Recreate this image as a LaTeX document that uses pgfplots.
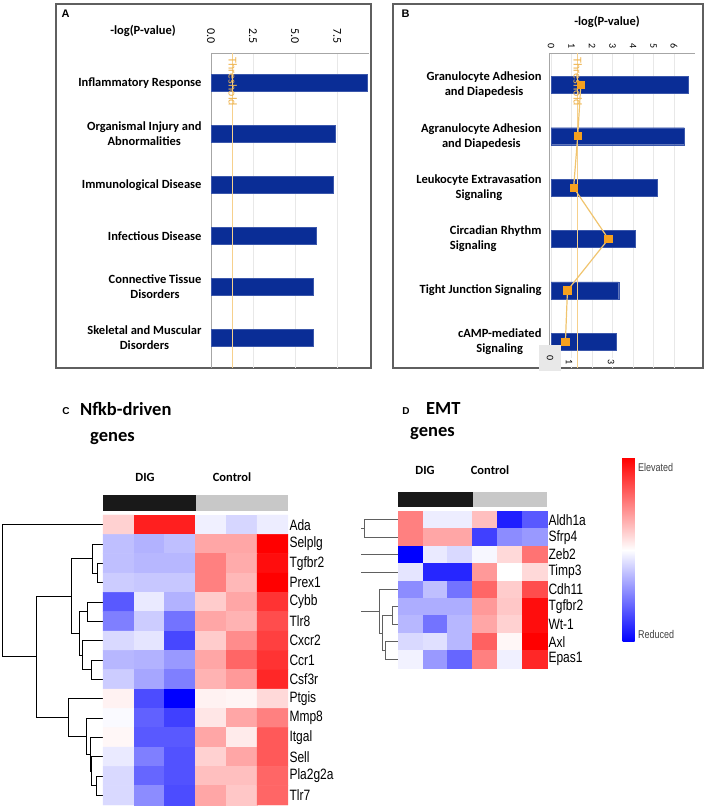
\documentclass[border=0pt]{standalone}
\usepackage{fontspec}
\setmainfont{Carlito}
\newfontfamily\arial{Liberation Sans}
\usepackage{pgfplots}
\pgfplotsset{compat=1.18}
\usepackage{pgfplotstable}

\definecolor{barblue}{RGB}{10,45,150}
\definecolor{thr}{RGB}{246,208,140}
\definecolor{thrtext}{RGB}{238,180,80}
\definecolor{orline}{RGB}{240,196,110}
\definecolor{ormark}{RGB}{245,160,30}
\definecolor{framec}{RGB}{95,95,95}
\definecolor{grp}{RGB}{200,200,200}
\definecolor{grpk}{RGB}{25,25,25}

\newcommand{\vs}[1]{\scalebox{1}[1.25]{#1}}

\pgfplotsset{colormap={bwr}{rgb255=(0,0,255) rgb255=(255,255,255) rgb255=(255,0,0)}}

\pgfplotstableread{
x y c
0 0 0.18
1 0 0.88
2 0 0.88
3 0 -0.06
4 0 -0.16
5 0 -0.07
0 1 -0.25
1 1 -0.30
2 1 -0.25
3 1 0.35
4 1 0.35
5 1 1.00
0 2 -0.25
1 2 -0.28
2 2 -0.28
3 2 0.50
4 2 0.33
5 2 0.95
0 3 -0.20
1 3 -0.22
2 3 -0.22
3 3 0.50
4 3 0.28
5 3 1.00
0 4 -0.65
1 4 -0.08
2 4 -0.30
3 4 0.20
4 4 0.35
5 4 0.80
0 5 -0.50
1 5 -0.20
2 5 -0.55
3 5 0.35
4 5 0.30
5 5 0.70
0 6 -0.15
1 6 -0.10
2 6 -0.72
3 6 0.20
4 6 0.45
5 6 0.75
0 7 -0.28
1 7 -0.30
2 7 -0.40
3 7 0.35
4 7 0.60
5 7 0.80
0 8 -0.20
1 8 -0.35
2 8 -0.50
3 8 0.30
4 8 0.40
5 8 0.85
0 9 0.05
1 9 -0.70
2 9 -1.00
3 9 0.05
4 9 0.04
5 9 0.15
0 10 -0.02
1 10 -0.62
2 10 -0.75
3 10 0.10
4 10 0.35
5 10 0.50
0 11 0.03
1 11 -0.65
2 11 -0.65
3 11 0.35
4 11 0.08
5 11 0.65
0 12 -0.08
1 12 -0.50
2 12 -0.68
3 12 0.18
4 12 0.35
5 12 0.65
0 13 -0.15
1 13 -0.60
2 13 -0.68
3 13 0.25
4 13 0.25
5 13 0.60
0 14 -0.15
1 14 -0.45
2 14 -0.70
3 14 0.35
4 14 0.22
5 14 0.60
}\heatC

\pgfplotstableread{
x y c
0 0 0.50
1 0 -0.07
2 0 -0.07
3 0 0.25
4 0 -0.88
5 0 -0.65
0 1 0.50
1 1 0.35
2 1 0.35
3 1 -0.75
4 1 -0.45
5 1 -0.40
0 2 -1.00
1 2 -0.08
2 2 -0.15
3 2 -0.03
4 2 0.15
5 2 0.55
0 3 -0.10
1 3 -0.85
2 3 -0.85
3 3 0.40
4 3 0.00
5 3 0.15
0 4 -0.45
1 4 -0.25
2 4 -0.55
3 4 0.60
4 4 0.20
5 4 0.70
0 5 -0.32
1 5 -0.32
2 5 -0.32
3 5 0.40
4 5 0.22
5 5 0.95
0 6 -0.28
1 6 -0.55
2 6 -0.28
3 6 0.35
4 6 0.18
5 6 0.95
0 7 -0.15
1 7 -0.12
2 7 -0.28
3 7 0.62
4 7 0.03
5 7 1.00
0 8 -0.05
1 8 -0.40
2 8 -0.60
3 8 0.50
4 8 -0.06
5 8 0.85
}\heatD

\pgfplotsset{
  barpanel/.style={
    scale only axis, y dir=reverse,
    axis x line*=top, axis y line*=left,
    axis line style={gray!70},
    major tick length=0pt,
    xmajorgrids, grid style={gray!18},
    ytick={0,1,2,3,4,5},
    yticklabel style={font=\bfseries\fontsize{12.5}{15}\selectfont, align=center},
    yticklabel shift=6pt,
    xticklabel style={rotate=-90, anchor=east, font=\fontsize{12}{14}\selectfont},
    clip=false,
  },
  heat/.style={
    scale only axis, y dir=reverse,
    xmin=-0.5, xmax=5.5,
    colormap name=bwr, point meta min=-1, point meta max=1,
    xtick=\empty, axis line style={draw=none}, major tick length=0pt,
    yticklabel pos=right,
    yticklabel style={font=\arial\fontsize{12}{14}\selectfont, anchor=west},
    yticklabel shift=-2pt,
    clip=false,
  },
  dendro/.style={
    scale only axis, y dir=reverse, hide axis, clip=false,
    unbounded coords=jump,
  },
}

\begin{document}
\begin{tikzpicture}[x=1pt,y=1pt]
\path[use as bounding box] (0,0) rectangle (708,808);

% ---------- Panel A ----------
\draw[framec, line width=1.2pt] (56,804) rectangle (371,440);
\node[font=\arial\bfseries\fontsize{11}{13}\selectfont] at (65.5,794) {A};
\node[font=\bfseries\fontsize{12.5}{15}\selectfont] at (143,777) {-log(P-value)};
\begin{axis}[barpanel,
  at={(211pt,755pt)}, anchor=north west,
  width=158pt, height=315pt,
  xmin=0, xmax=9.4, ymin=-0.59, ymax=5.59,
  xtick={0,2.5,5,7.5}, xticklabels={0.0,2.5,5.0,7.5},
  xticklabel shift=6pt,
  yticklabels={Inflammatory Response, Organismal Injury and\\Abnormalities, Immunological Disease, Infectious Disease, Connective Tissue\\Disorders, Skeletal and Muscular\\Disorders},
]
\addplot[xbar, bar width=17pt, fill=barblue, draw=barblue!80!white] coordinates {(9.3,0) (7.4,1) (7.3,2) (6.25,3) (6.1,4) (6.1,5)};
\addplot[thr, line width=1.2pt] coordinates {(1.3,-0.59) (1.3,5.59)};
\node[rotate=-90, anchor=west, text=thrtext, font=\fontsize{12}{14}\selectfont] at (axis cs:1.3,-0.57) {Threshold};
\end{axis}

% ---------- Panel B ----------
\draw[framec, line width=1.2pt] (393,804) rectangle (703,440);
\node[font=\arial\bfseries\fontsize{11}{13}\selectfont] at (405.7,794) {B};
\node[font=\bfseries\fontsize{12.5}{15}\selectfont] at (607,786) {-log(P-value)};
\begin{axis}[barpanel,
  at={(549pt,755pt)}, anchor=north west,
  width=146pt, height=315pt,
  xmin=-0.1, xmax=7.02, ymin=-0.62, ymax=5.51,
  xtick={0,1,2,3,4,5,6}, xticklabels={0,1,2,3,4,5,6},
  xticklabel style={font=\fontsize{10}{12}\selectfont},
  xticklabel shift=1pt,
  yticklabel shift=4pt,
  yticklabels={Granulocyte Adhesion\\and Diapedesis, Agranulocyte Adhesion\\and Diapedesis, Leukocyte Extravasation\\Signaling, {\begin{tabular}{@{}l@{}}Circadian Rhythm\\Signaling\end{tabular}}, Tight Junction Signaling, cAMP-mediated\\Signaling},
]
\addplot[xbar, bar width=17pt, fill=barblue, draw=barblue!80!white] coordinates {(6.7,0) (6.5,1) (5.2,2) (4.1,3) (3.3,4) (3.2,5)};
\addplot[thr, line width=1.2pt] coordinates {(1.3,-0.62) (1.3,5.51)};
\node[rotate=-90, anchor=west, text=thrtext, font=\fontsize{12}{14}\selectfont] at (axis cs:1.3,-0.6) {Threshold};
\addplot[orline, line width=1.2pt, mark=square*, mark size=3.5pt, mark options={fill=ormark, draw=ormark}] coordinates {(1.45,0) (1.3,1) (1.1,2) (2.8,3) (0.8,4) (0.7,5)};
\end{axis}
\node[fill=gray!18, minimum width=22pt, minimum height=26pt, inner sep=0pt, font=\fontsize{10}{12}\selectfont] at (550,450) {\rotatebox{-90}{0}};
\node[font=\fontsize{10}{12}\selectfont, fill=white, inner sep=1pt] at (569,446) {\rotatebox{-90}{1}};
\node[font=\fontsize{10}{12}\selectfont, fill=white, inner sep=1pt] at (611,446) {\rotatebox{-90}{3}};

% ---------- Panel C ----------
\node[anchor=base, font=\arial\bfseries\fontsize{10}{12}\selectfont] at (66,393) {C};
\node[anchor=base west, font=\bfseries\fontsize{18.5}{22}\selectfont, inner sep=0pt] at (80,392) {Nfkb-driven};
\node[anchor=base west, font=\bfseries\fontsize{18.5}{22}\selectfont, inner sep=0pt] at (90,366) {genes};
\node[anchor=base, font=\bfseries\fontsize{12.5}{15}\selectfont] at (145,326) {DIG};
\node[anchor=base, font=\bfseries\fontsize{12.5}{15}\selectfont] at (232,326) {Control};
\fill[grpk] (103,313) rectangle (195.5,297);
\fill[grp] (195.5,313) rectangle (288,297);

\begin{axis}[dendro, at={(0pt,293pt)}, anchor=north west,
  width=103pt, height=290pt, xmin=0, xmax=103, ymin=-0.5, ymax=14.5]
\addplot[black, line width=0.9pt] coordinates {
 (103,2) (97.7,2) (97.7,3) (103,3) (nan,nan)
 (103,1) (92.7,1) (92.7,2.5) (97.7,2.5) (nan,nan)
 (103,4) (87.3,4) (87.3,5) (103,5) (nan,nan)
 (103,7) (91.7,7) (91.7,8) (103,8) (nan,nan)
 (103,6) (82.7,6) (82.7,7.5) (91.7,7.5) (nan,nan)
 (87.3,4.5) (79,4.5) (79,6.75) (82.7,6.75) (nan,nan)
 (92.7,1.75) (71.7,1.75) (71.7,5.625) (79,5.625) (nan,nan)
 (103,13) (96.7,13) (96.7,14) (103,14) (nan,nan)
 (103,12) (91.7,12) (91.7,13.5) (96.7,13.5) (nan,nan)
 (103,11) (90,11) (90,12.75) (91.7,12.75) (nan,nan)
 (103,10) (86,10) (86,11.875) (90,11.875) (nan,nan)
 (103,9) (68.3,9) (68.3,10.94) (86,10.94) (nan,nan)
 (71.7,3.69) (36.7,3.69) (36.7,9.97) (68.3,9.97) (nan,nan)
 (103,0) (2.7,0) (2.7,6.83) (36.7,6.83)
};
\end{axis}

\begin{axis}[heat, at={(103pt,293pt)}, anchor=north west,
  width=185pt, height=290pt, ymin=-0.5, ymax=14.5,
  ytick={0,...,14},
  yticklabels={\vs{Ada},\vs{Selplg},\vs{Tgfbr2},\vs{Prex1},\vs{Cybb},\vs{Tlr8},\vs{Cxcr2},\vs{Ccr1},\vs{Csf3r},\vs{Ptgis},\vs{Mmp8},\vs{Itgal},\vs{Sell},\vs{Pla2g2a},\vs{Tlr7}},
]
\addplot[matrix plot*, mesh/cols=6, point meta=explicit] table[x=x, y=y, meta=c] {\heatC};
\end{axis}

% ---------- Panel D ----------
\node[anchor=base, font=\arial\bfseries\fontsize{10}{12}\selectfont] at (406,393) {D};
\node[anchor=base west, font=\bfseries\fontsize{18.5}{22}\selectfont, inner sep=0pt] at (426,393) {EMT};
\node[anchor=base west, font=\bfseries\fontsize{18.5}{22}\selectfont, inner sep=0pt] at (410,371) {genes};
\node[anchor=base, font=\bfseries\fontsize{12.5}{15}\selectfont] at (425,333) {DIG};
\node[anchor=base, font=\bfseries\fontsize{12.5}{15}\selectfont] at (490,333) {Control};
\fill[grpk] (398,316) rectangle (472.5,301);
\fill[grp] (472.5,316) rectangle (547,301);

\begin{axis}[dendro, at={(354pt,297pt)}, anchor=north west,
  width=44pt, height=157pt, xmin=354, xmax=398, ymin=-0.5, ymax=8.5]
\addplot[gray!75!black, line width=0.9pt] coordinates {
 (398,0) (364.7,0) (364.7,1) (398,1) (nan,nan)
 (361,0.5) (364.7,0.5) (nan,nan)
 (361,2) (398,2) (nan,nan)
 (361,3) (398,3) (nan,nan)
 (398,5) (392.3,5) (392.3,6) (398,6) (nan,nan)
 (398,7) (385,7) (385,8) (398,8) (nan,nan)
 (392.3,5.5) (382,5.5) (382,7.5) (385,7.5) (nan,nan)
 (398,4) (379.7,4) (379.7,6.5) (382,6.5) (nan,nan)
 (361,5.25) (379.7,5.25)
};
\end{axis}

\begin{axis}[heat, at={(398pt,297pt)}, anchor=north west,
  width=149pt, height=157pt, ymin=-0.5, ymax=8.5,
  ytick={0,...,8},
  yticklabels={\vs{Aldh1a},\vs{Sfrp4},\vs{Zeb2},\vs{Timp3},\vs{Cdh11},\vs{Tgfbr2},\vs{Wt-1},\vs{Axl},\vs{Epas1}},
  colorbar,
  colorbar style={at={(parent axis.north east)}, anchor=north west,
    xshift=67pt, yshift=53pt, width=12pt, height=184pt, scale only axis,
    ytick=\empty, axis line style={draw=none}, major tick length=0pt},
]
\addplot[matrix plot*, mesh/cols=6, point meta=explicit] table[x=x, y=y, meta=c] {\heatD};
\end{axis}
\node[anchor=west, text=gray!50!black, font=\arial\fontsize{9}{11}\selectfont, inner sep=0pt] at (638,341) {\vs{Elevated}};
\node[anchor=west, text=gray!50!black, font=\arial\fontsize{9}{11}\selectfont, inner sep=0pt] at (638,174) {\vs{Reduced}};
\end{tikzpicture}
\end{document}
